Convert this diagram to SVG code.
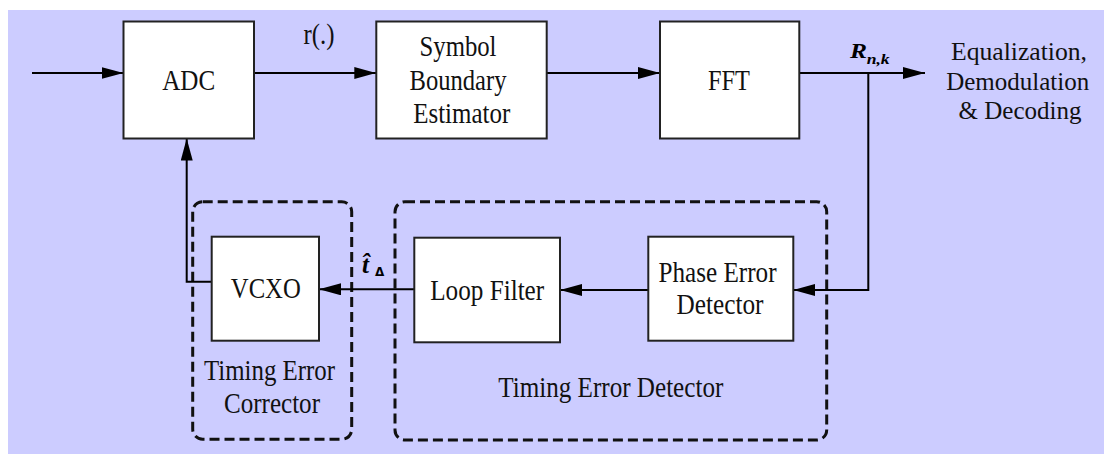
<svg xmlns="http://www.w3.org/2000/svg" width="1104" height="454" viewBox="0 0 1104 454">
<defs>
<marker id="arr" markerUnits="userSpaceOnUse" viewBox="0 0 22 12" refX="22" refY="6" markerWidth="22" markerHeight="12" orient="auto">
<path d="M0,0 L22,6 L0,12 z" fill="#000"/>
</marker>
<style>
.box{fill:#fff;stroke:#222;stroke-width:2}
.grp{fill:none;stroke:#111;stroke-width:3;stroke-dasharray:10 5}
.ln{fill:none;stroke:#000;stroke-width:2;marker-end:url(#arr)}
.t{font-family:"Liberation Serif","Times New Roman",serif;font-size:29px;fill:#111;text-anchor:middle}
.o{font-size:26px}
.m{font-family:"Liberation Serif","Times New Roman",serif;font-weight:bold;font-style:italic;fill:#000}
</style>
</defs>
<rect x="0" y="0" width="1104" height="454" fill="#fff"/>
<rect x="8" y="10" width="1096" height="444" fill="#ccccff"/>

<g id="group-tec">
<rect class="grp" x="192.7" y="201.7" width="159" height="237.6" rx="10"/>
<text class="t" x="269.5" y="380" textLength="131" lengthAdjust="spacingAndGlyphs">Timing Error</text>
<text class="t" x="272" y="413.3" textLength="96" lengthAdjust="spacingAndGlyphs">Corrector</text>
</g>
<g id="group-ted">
<rect class="grp" x="395" y="201.7" width="431.7" height="238.3" rx="10"/>
<text class="t" x="610.8" y="396.7" textLength="225" lengthAdjust="spacingAndGlyphs">Timing Error Detector</text>
</g>

<g id="connectors">
<path class="ln" d="M32,73 H123.5"/>
<path class="ln" d="M254,73 H376.3"/>
<path class="ln" d="M546.7,73 H660"/>
<path class="ln" d="M799.3,73 H925"/>
<path class="ln" d="M868.3,73 V290 H793.3"/>
<path class="ln" d="M648.3,290 H560"/>
<path class="ln" d="M414.3,289.3 H319"/>
<path class="ln" d="M211.7,281.7 H186.7 V138.5"/>
<text class="t" x="319" y="43.5" textLength="31" lengthAdjust="spacingAndGlyphs">r(.)</text>
<text class="m" x="850" y="58.3" font-size="21" textLength="17" lengthAdjust="spacingAndGlyphs">R</text>
<text class="m" x="866.7" y="64" font-size="14" textLength="23" lengthAdjust="spacingAndGlyphs">n,k</text>
<text class="m" x="362" y="273" font-size="25">t̂</text>
<text x="375" y="276" font-family="'DejaVu Sans',sans-serif" font-weight="bold" font-size="12">Δ</text>
<text class="t o" x="1019" y="59.5" textLength="136" lengthAdjust="spacingAndGlyphs">Equalization,</text>
<text class="t o" x="1017.7" y="89.5" textLength="143" lengthAdjust="spacingAndGlyphs">Demodulation</text>
<text class="t o" x="1020" y="118.5" textLength="123" lengthAdjust="spacingAndGlyphs">&amp; Decoding</text>
</g>

<g id="adc">
<rect class="box" x="123.5" y="21.5" width="130.5" height="117"/>
<text class="t" x="188.7" y="90" textLength="53" lengthAdjust="spacingAndGlyphs">ADC</text>
</g>
<g id="sbe">
<rect class="box" x="376.3" y="21.5" width="170.4" height="117"/>
<text class="t" x="458" y="56" textLength="77" lengthAdjust="spacingAndGlyphs">Symbol</text>
<text class="t" x="458" y="89.5" textLength="97" lengthAdjust="spacingAndGlyphs">Boundary</text>
<text class="t" x="461.7" y="123" textLength="97" lengthAdjust="spacingAndGlyphs">Estimator</text>
</g>
<g id="fft">
<rect class="box" x="660" y="21.5" width="139.3" height="117"/>
<text class="t" x="729" y="90" textLength="42" lengthAdjust="spacingAndGlyphs">FFT</text>
</g>
<g id="vcxo">
<rect class="box" x="211.7" y="236.7" width="107.3" height="104"/>
<text class="t" x="265.8" y="298.3" textLength="70" lengthAdjust="spacingAndGlyphs">VCXO</text>
</g>
<g id="loop-filter">
<rect class="box" x="414.3" y="237.7" width="145.7" height="104.6"/>
<text class="t" x="487.2" y="300" textLength="114" lengthAdjust="spacingAndGlyphs">Loop Filter</text>
</g>
<g id="ped">
<rect class="box" x="648.3" y="236.7" width="145" height="104"/>
<text class="t" x="717.5" y="281.7" textLength="118" lengthAdjust="spacingAndGlyphs">Phase Error</text>
<text class="t" x="720" y="314.3" textLength="87" lengthAdjust="spacingAndGlyphs">Detector</text>
</g>
</svg>
